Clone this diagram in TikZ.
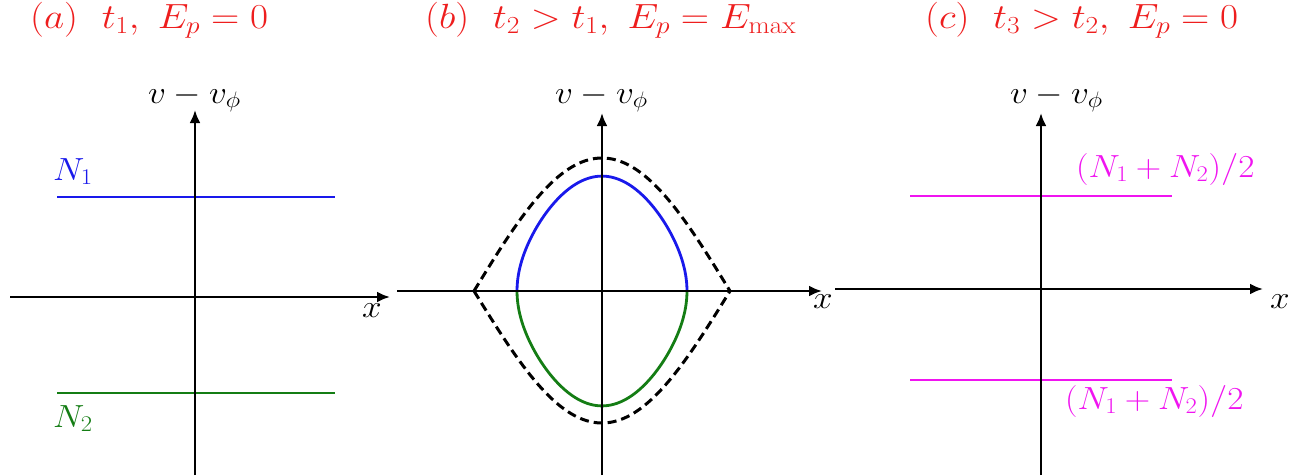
\documentclass[tikz,border=0pt]{standalone}
\usepackage{fix-cm}
\usetikzlibrary{arrows.meta}
\definecolor{ttl}{RGB}{238,30,30}
\definecolor{bl}{RGB}{25,25,235}
\definecolor{gr}{RGB}{20,125,20}
\definecolor{mg}{RGB}{240,20,240}
\newcommand{\wid}[2]{\scalebox{#1}[1]{#2}}
\begin{document}
\begin{tikzpicture}[x=1pt,y=-1pt,
  axis/.style={line width=2.6pt,-{Latex[length=13pt,width=11pt]}},
  lvl/.style={line width=2.8pt},
  sep/.style={line width=3pt,dash pattern=on 9pt off 5pt,black},
  ttlfont/.style={font=\fontsize{35}{40}\selectfont,text=ttl,inner sep=0pt},
  lab/.style={font=\fontsize{32}{36}\selectfont,inner sep=0pt},
]
\useasboundingbox (0,0) rectangle (1307,475);

% titles
\node[ttlfont,anchor=base west] (ta) at (30,28) {\wid{1.12}{$(a)\ \ t_1,\ E_p=0$}};
\node[ttlfont,anchor=base west] (tb) at (425,28) {\wid{1.12}{$(b)\ \ t_2>t_1,\ E_p=E_{\max}$}};
\node[ttlfont,anchor=base west] (tc) at (925,28) {\wid{1.12}{$(c)\ \ t_3>t_2,\ E_p=0$}};

% ---------- panel (a)
\coordinate (aL) at (10,297);  \coordinate (aR) at (390,297);
\coordinate (aB) at (195,475); \coordinate (aT) at (195,110);
\coordinate (n1L) at (57,197); \coordinate (n1R) at (335,197);
\coordinate (n2L) at (57,393); \coordinate (n2R) at (335,393);
\draw[bl,lvl] (n1L) -- (n1R);
\draw[gr,lvl] (n2L) -- (n2R);
\draw[axis] (aL) -- (aR);
\draw[axis] (aB) -- (aT);
\node[lab,anchor=base west] (va) at (148,103) {\wid{1.1}{$v-v_\phi$}};
\node[lab] (xa) at (372,311) {\wid{1.1}{$x$}};
\node[lab,text=bl,anchor=base west] (N1) at (53,180) {\wid{1.1}{$N_1$}};
\node[lab,text=gr,anchor=base west] (N2) at (53,427) {\wid{1.1}{$N_2$}};

% ---------- panel (b)
\coordinate (bL) at (397,291);  \coordinate (bR) at (822,291);
\coordinate (bB) at (602,475);  \coordinate (bT) at (602,113);
\draw[sep] plot[domain=-180:180,samples=121,variable=\t] ({602+0.7111*\t},{291-133*cos(\t/2)});
\draw[sep] plot[domain=-180:180,samples=121,variable=\t] ({602+0.7111*\t},{291+132*cos(\t/2)});
\draw[bl,lvl] plot[domain=-90:90,samples=121,variable=\s]
  ({602+0.7111*119.5*sin(\s)},{291-66.5*sqrt(max(0,2*(cos(119.5*sin(\s))-cos(119.5))))});
\draw[gr,lvl] plot[domain=-90:90,samples=121,variable=\s]
  ({602+0.7111*119.5*sin(\s)},{291+66.5*sqrt(max(0,2*(cos(119.5*sin(\s))-cos(119.5))))});
\draw[axis] (bL) -- (bR);
\draw[axis] (bB) -- (bT);
\node[lab,anchor=base west] (vb) at (555,103) {\wid{1.1}{$v-v_\phi$}};
\node[lab] (xb) at (823,302) {\wid{1.1}{$x$}};

% ---------- panel (c)
\coordinate (cL) at (835,289);  \coordinate (cR) at (1263,289);
\coordinate (cB) at (1041,475); \coordinate (cT) at (1041,113);
\coordinate (m1L) at (910,196); \coordinate (m1R) at (1172,196);
\coordinate (m2L) at (910,380); \coordinate (m2R) at (1172,380);
\draw[mg,lvl] (m1L) -- (m1R);
\draw[mg,lvl] (m2L) -- (m2R);
\draw[axis] (cL) -- (cR);
\draw[axis] (cB) -- (cT);
\node[lab,anchor=base west] (vc) at (1010,103) {\wid{1.1}{$v-v_\phi$}};
\node[lab] (xc) at (1280,302) {\wid{1.1}{$x$}};
\node[lab,text=mg,anchor=base west] (M1) at (1076,177) {\wid{1.1}{$(N_1+N_2)/2$}};
\node[lab,text=mg,anchor=base west] (M2) at (1065,409) {\wid{1.1}{$(N_1+N_2)/2$}};
\end{tikzpicture}
\end{document}
